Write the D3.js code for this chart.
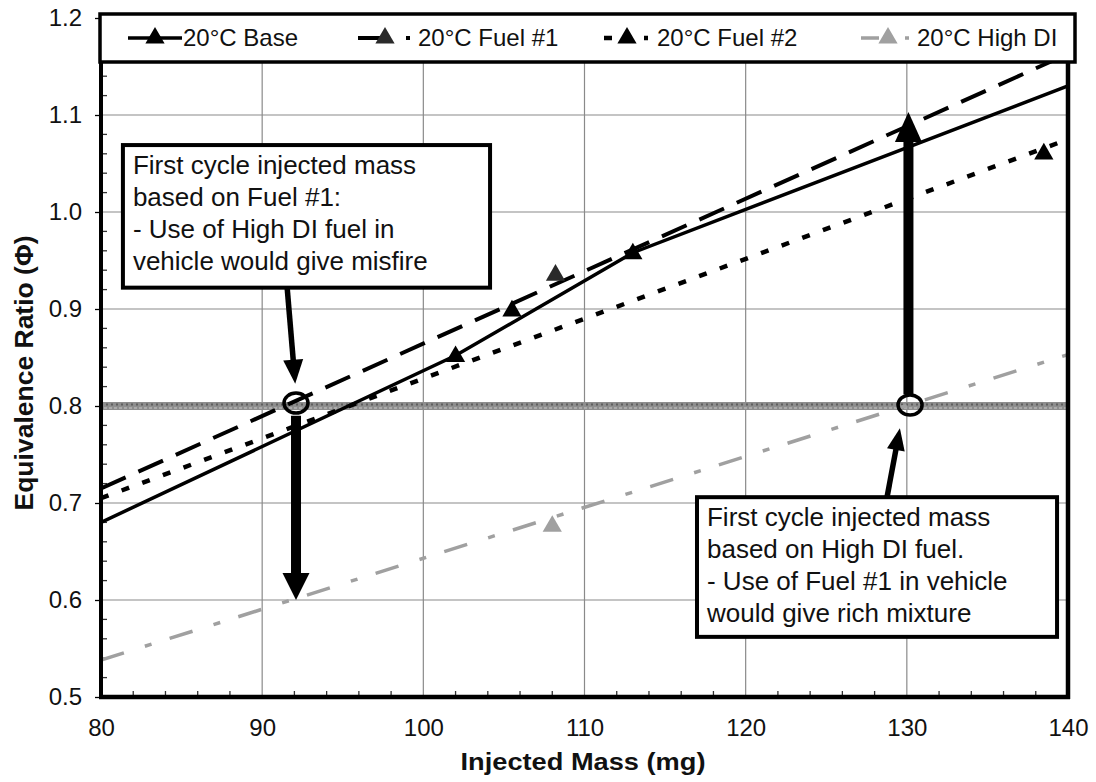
<!DOCTYPE html>
<html><head><meta charset="utf-8">
<script src="https://cdn.jsdelivr.net/npm/d3@7"></script>
<style>body{margin:0;background:#fff}svg{display:block}text{font-family:"Liberation Sans",Arial,sans-serif;fill:#111}</style>
</head><body><svg id="c" width="1096" height="782"></svg>
<script>
// ---- data ----
const xTicks = [80, 90, 100, 110, 120, 130, 140];
const yTicks = [0.5, 0.6, 0.7, 0.8, 0.9, 1.0, 1.1, 1.2];
const seriesNames = ["20°C Base", "20°C Fuel #1", "20°C Fuel #2", "20°C High DI"];
// Base (connected line through points)
const baseX = [80, 102, 113, 140];
const baseY = [0.68, 0.852, 0.958, 1.13];
const baseMarkX = [102, 113];
const baseMarkY = [0.852, 0.958];
// Fuel #1 (trend line + points)
const fuel1X = [80, 140];
const fuel1Y = [0.715, 1.163];
const fuel1MarkX = [108.2];
const fuel1MarkY = [0.936];
// Fuel #2
const fuel2X = [80, 140];
const fuel2Y = [0.705, 1.075];
const fuel2MarkX = [105.5, 138.5];
const fuel2MarkY = [0.899, 1.061];
// High DI
const highX = [80, 140];
const highY = [0.538, 0.853];
const highMarkX = [108];
const highMarkY = [0.677];
// target equivalence ratio
const targetPhi = 0.8;
// annotation anchor points (data space)
const circ1 = [92.1, 0.803], circ2 = [130.2, 0.801];
const box1Lines = ["First cycle injected mass", "based on Fuel #1:", "- Use of High DI fuel in", "vehicle would give misfire"];
const box2Lines = ["First cycle injected mass", "based on High DI fuel.", "- Use of Fuel #1 in vehicle", "would give rich mixture"];
const box1Ext = [81.36, 104.14, 1.069, 0.922];
const box2Ext = [116.98, 139.32, 0.706, 0.562];

// ---- chart ----
const svg = d3.select("#c");
const L = 101, R = 1068, T = 18, B = 697;
const x = d3.scaleLinear().domain([80, 140]).range([L, R]);
const y = d3.scaleLinear().domain([0.5, 1.2]).range([B, T]);

svg.append("defs").append("clipPath").attr("id", "clip")
  .append("rect").attr("x", L).attr("y", T).attr("width", R - L).attr("height", B - T);

// gridlines
const g = svg.append("g");
g.selectAll(".vg").data(xTicks.slice(1, -1)).join("line")
  .attr("x1", d => x(d)).attr("x2", d => x(d)).attr("y1", T).attr("y2", B)
  .attr("stroke", "#8a8a8a").attr("stroke-width", 1.2);
g.selectAll(".hg").data(yTicks.slice(1, -1)).join("line")
  .attr("y1", d => y(d)).attr("y2", d => y(d)).attr("x1", L).attr("x2", R)
  .attr("stroke", "#8a8a8a").attr("stroke-width", 1.2);

// minor ticks
const xMinor = d3.range(82, 140, 2).filter(v => v % 10 !== 0);
g.selectAll(".xm").data(xMinor).join("line")
  .attr("x1", d => x(d)).attr("x2", d => x(d)).attr("y1", B).attr("y2", B - 6)
  .attr("stroke", "#333").attr("stroke-width", 1.3);
const yMinor = d3.range(0.52, 1.2, 0.02).filter(v => Math.abs(v * 10 - Math.round(v * 10)) > 0.01);
g.selectAll(".ym").data(yMinor).join("line")
  .attr("y1", d => y(d)).attr("y2", d => y(d)).attr("x1", L).attr("x2", L + 6)
  .attr("stroke", "#333").attr("stroke-width", 1.3);

// target band
const band = svg.append("g");
band.append("line").attr("x1", L).attr("x2", R).attr("y1", y(targetPhi)).attr("y2", y(targetPhi))
  .attr("stroke", "#8e8e8e").attr("stroke-width", 8);
band.append("line").attr("x1", L).attr("x2", R).attr("y1", y(targetPhi) - 1.5).attr("y2", y(targetPhi) - 1.5)
  .attr("stroke", "#5f5f5f").attr("stroke-width", 2).attr("stroke-dasharray", "2 3");
band.append("line").attr("x1", L).attr("x2", R).attr("y1", y(targetPhi) + 2).attr("y2", y(targetPhi) + 2)
  .attr("stroke", "#b5b5b5").attr("stroke-width", 1.6).attr("stroke-dasharray", "3 2").attr("stroke-dashoffset", 2);

// series
const line = d3.line().x(d => x(d[0])).y(d => y(d[1]));
const zip = (a, b) => a.map((v, i) => [v, b[i]]);
const styles = [
  {xs: baseX, ys: baseY, mx: baseMarkX, my: baseMarkY, color: "#000", w: 3.5, dash: null, mc: "#000", ld: null},
  {xs: fuel1X, ys: fuel1Y, mx: fuel1MarkX, my: fuel1MarkY, color: "#000", w: 4, dash: "27 14", mc: "#2a2a2a", ld: "24 24 4 100"},
  {xs: fuel2X, ys: fuel2Y, mx: fuel2MarkX, my: fuel2MarkY, color: "#000", w: 4.5, dash: "8 14", mc: "#000", ld: "0 4 8 32 4 100"},
  {xs: highX, ys: highY, mx: highMarkX, my: highMarkY, color: "#a0a0a0", w: 3.5, dash: "24 22 7 19", mc: "#a0a0a0", ld: "18 26 4 100"}
];
const sg = svg.append("g").attr("clip-path", "url(#clip)");
const tri = d3.symbol().type(d3.symbolTriangle).size(160);
styles.forEach(s => {
  sg.append("path").datum(zip(s.xs, s.ys)).attr("d", line).attr("fill", "none")
    .attr("stroke", s.color).attr("stroke-width", s.w).attr("stroke-dasharray", s.dash);
});
styles.forEach(s => {
  sg.selectAll(null).data(zip(s.mx, s.my)).join("path").attr("d", tri)
    .attr("transform", d => `translate(${x(d[0])},${y(d[1]) + 1})`).attr("fill", s.mc);
});

// annotation boxes
function box(ext, lines) {
  const bx = x(ext[0]), by = y(ext[2]), bw = x(ext[1]) - x(ext[0]), bh = y(ext[3]) - y(ext[2]);
  svg.append("rect").attr("x", bx).attr("y", by).attr("width", bw).attr("height", bh)
    .attr("fill", "#fff").attr("stroke", "#000").attr("stroke-width", 4);
  svg.append("g").selectAll("text").data(lines).join("text")
    .attr("x", bx + 10).attr("y", (d, i) => by + 29 + i * 32)
    .attr("font-size", 26).text(d => d);
}
box(box1Ext, box1Lines);
box(box2Ext, box2Lines);

// arrows
function arrow(x0, y0, x1, y1, sw, hl, hw) {
  const dx = x1 - x0, dy = y1 - y0, len = Math.hypot(dx, dy);
  const ux = dx / len, uy = dy / len, px = -uy, py = ux;
  const bx = x1 - ux * hl, by = y1 - uy * hl;
  svg.append("line").attr("x1", x0).attr("y1", y0).attr("x2", bx + ux * 2).attr("y2", by + uy * 2)
    .attr("stroke", "#000").attr("stroke-width", sw);
  svg.append("polygon").attr("points",
    [[x1, y1], [bx + px * hw / 2, by + py * hw / 2], [bx - px * hw / 2, by - py * hw / 2]].map(p => p.join(",")).join(" "))
    .attr("fill", "#000");
}
arrow(x(91.55), y(box1Ext[3]), x(92.05), y(0.823), 5.5, 24, 20);
arrow(x(circ1[0]), y(0.79), x(circ1[0]), y(0.6), 10, 27, 27);
arrow(x(130.1), y(0.812), x(130.1), y(1.103), 10, 30, 27);
arrow(x(128.77), y(box2Ext[2]), x(129.57), y(0.777), 5.5, 22, 18);

[circ1, circ2].forEach(c => {
  svg.append("ellipse").attr("cx", x(c[0])).attr("cy", y(c[1])).attr("rx", 12).attr("ry", 10)
    .attr("fill", "none").attr("stroke", "#000").attr("stroke-width", 3.5);
});

// frame
svg.append("line").attr("x1", L).attr("x2", L).attr("y1", T).attr("y2", B + 2).attr("stroke", "#000").attr("stroke-width", 4);
svg.append("line").attr("x1", R).attr("x2", R).attr("y1", T).attr("y2", B + 2).attr("stroke", "#000").attr("stroke-width", 4.5);
svg.append("line").attr("x1", L - 2).attr("x2", R + 2).attr("y1", B).attr("y2", B).attr("stroke", "#000").attr("stroke-width", 4.5);

// axes labels
const yAxis = d3.axisLeft(y).tickValues(yTicks).tickFormat(d3.format(".1f")).tickSize(6).tickPadding(13);
const ya = svg.append("g").attr("transform", `translate(${L},0)`).call(yAxis);
ya.select(".domain").remove();
ya.selectAll("text").attr("font-size", 24).attr("font-family", "Liberation Sans, Arial, sans-serif").attr("fill", "#111");
ya.selectAll("line").attr("stroke-width", 1.3);
const xAxis = d3.axisBottom(x).tickValues(xTicks).tickFormat(d3.format("d")).tickSize(0).tickPadding(22);
const xa = svg.append("g").attr("transform", `translate(0,${B})`).call(xAxis);
xa.select(".domain").remove();
xa.selectAll("text").attr("font-size", 24).attr("font-family", "Liberation Sans, Arial, sans-serif").attr("fill", "#111");

svg.append("text").attr("x", 583).attr("y", 770).attr("text-anchor", "middle")
  .attr("font-size", 24).attr("font-weight", "bold").attr("textLength", 245).attr("lengthAdjust", "spacingAndGlyphs")
  .text("Injected Mass (mg)");
svg.append("text").attr("transform", "translate(33,373) rotate(-90)").attr("text-anchor", "middle")
  .attr("font-size", 25).attr("font-weight", "bold").attr("textLength", 275).attr("lengthAdjust", "spacingAndGlyphs")
  .text("Equivalence Ratio (Φ)");

// legend
const lg = svg.append("g");
lg.append("rect").attr("x", 100).attr("y", 14).attr("width", 975).attr("height", 48)
  .attr("fill", "#fff").attr("stroke", "#000").attr("stroke-width", 3.5);
const legPos = [155, 385, 627, 888];
const legText = [183, 418, 657, 917];
styles.forEach((s, i) => {
  const cx = legPos[i], cy = 38;
  lg.append("line").attr("x1", cx - 27).attr("x2", cx + 27).attr("y1", cy).attr("y2", cy)
    .attr("stroke", s.color).attr("stroke-width", s.w).attr("stroke-dasharray", s.ld);
  lg.append("path").attr("d", tri).attr("transform", `translate(${cx},${cy})`).attr("fill", s.mc);
  lg.append("text").attr("x", legText[i]).attr("y", cy + 8).attr("font-size", 24).text(seriesNames[i]);
});
</script></body></html>
